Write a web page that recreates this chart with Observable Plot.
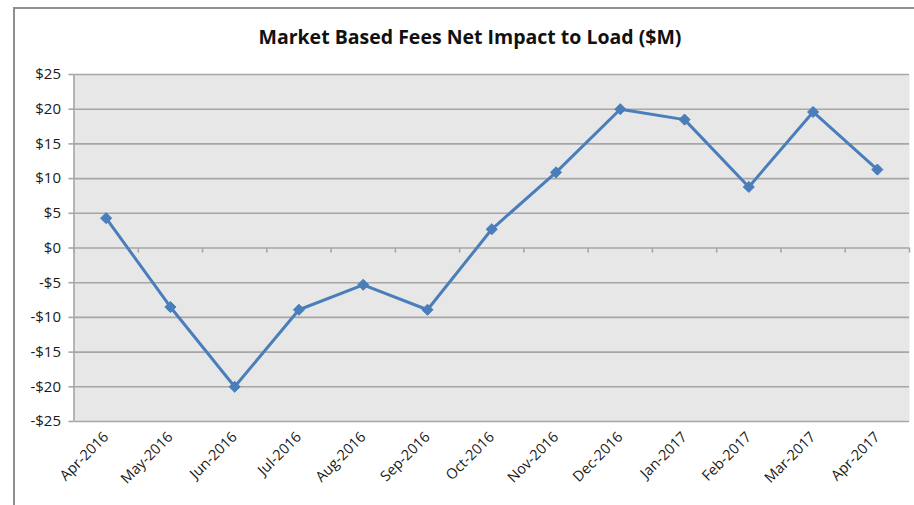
<!DOCTYPE html>
<html>
<head>
<meta charset="utf-8">
<script src="https://cdn.jsdelivr.net/npm/d3@7"></script>
<script src="https://cdn.jsdelivr.net/npm/@observablehq/plot@0.6"></script>
<style>
  html, body { margin: 0; padding: 0; background: #fff; }
  #wrap { position: relative; width: 914px; height: 505px; overflow: hidden; }
  #border { position: absolute; left: 13px; top: 7px; width: 920px; height: 520px;
            border-left: 2px solid #8f8f8f; border-top: 2px solid #8f8f8f; }
  #title { position: absolute; top: 23px; left: 470px; transform: translateX(-50%);
           font-family: "Open Sans", sans-serif; font-weight: 700; font-size: 19.5px;
           color: #111; white-space: nowrap; }
  #chart { position: absolute; left: 0; top: 0; }
</style>
</head>
<body>
<div id="wrap">
  <div id="border"></div>
  <div id="chart"></div>
  <div id="title">Market Based Fees Net Impact to Load ($M)</div>
</div>
<script>
const months = ["Apr-2016","May-2016","Jun-2016","Jul-2016","Aug-2016","Sep-2016","Oct-2016",
                "Nov-2016","Dec-2016","Jan-2017","Feb-2017","Mar-2017","Apr-2017"];
const values = [4.3, -8.5, -20.0, -8.9, -5.3, -8.9, 2.7, 10.9, 20.0, 18.5, 8.8, 19.6, 11.3];
const yTicks = [-25, -20, -15, -10, -5, 0, 5, 10, 15, 20, 25];

const data = months.map((m, i) => ({i, month: m, value: values[i]}));
const idx = months.map((m, i) => i);
const bounds = [-1, ...idx].map(i => i + 0.5);
const fmt = v => (v < 0 ? "-$" + Math.abs(v) : "$" + v);

const blue = "#4a7ebb";
const grid = "#a6a6a6";

const chart = Plot.plot({
  width: 914,
  height: 505,
  marginLeft: 73.5,
  marginRight: 5,
  marginTop: 74,
  marginBottom: 84,
  style: {fontFamily: "Open Sans, sans-serif", background: "transparent", color: "#1a1a1a"},
  x: {type: "linear", domain: [-0.5, 12.5], axis: null},
  y: {domain: [-25, 25], axis: null},
  marks: [
    Plot.frame({fill: "#e7e7e7", stroke: null}),
    Plot.ruleY(yTicks, {stroke: grid, strokeWidth: 1.6}),
    Plot.ruleX([-0.5], {stroke: grid, strokeWidth: 1.6}),
    Plot.ruleX(bounds, {x: d => d, y1: 0, y2: 0, insetTop: 0, insetBottom: -5, stroke: grid, strokeWidth: 1.6}),
    Plot.axisY({ticks: yTicks, tickFormat: fmt, tickSize: 5, tickPadding: 8, label: null,
                stroke: grid, strokeWidth: 1.6, fill: "#1a1a1a", fontSize: 15}),
    Plot.axisX({ticks: idx, tickFormat: i => months[i], tickRotate: -45, tickSize: 0, tickPadding: 13,
                label: null, fill: "#1a1a1a", fontSize: 14.5}),
    Plot.line(data, {x: "i", y: "value", stroke: blue, strokeWidth: 3}),
    Plot.dot(data, {x: "i", y: "value", symbol: "diamond2", r: 5, fill: blue, stroke: blue, strokeWidth: 1})
  ]
});
document.getElementById("chart").appendChild(chart);
</script>
</body>
</html>
